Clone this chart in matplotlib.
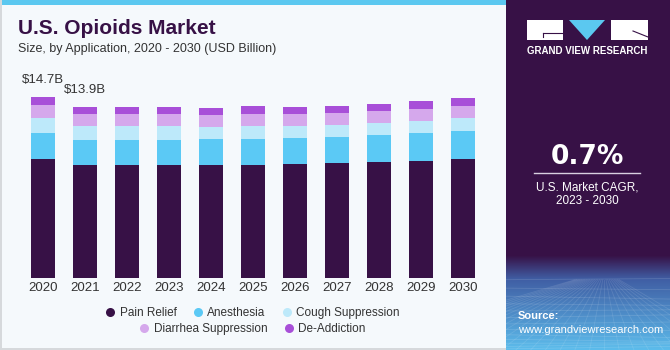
import numpy as np
import matplotlib
matplotlib.use("Agg")
import matplotlib.pyplot as plt
from matplotlib.patches import Rectangle, Polygon
from matplotlib.lines import Line2D

plt.rcParams['font.family'] = ['Liberation Sans', 'DejaVu Sans']

years = ['2020', '2021', '2022', '2023', '2024', '2025', '2026', '2027', '2028', '2029', '2030']
segments = ['Pain Relief', 'Anesthesia', 'Cough Suppression', 'Diarrhea Suppression', 'De-Addiction']

pain_relief = [9.73, 9.19, 9.19, 9.19, 9.19, 9.19, 9.30, 9.38, 9.46, 9.55, 9.71]
anesthesia = [2.12, 2.06, 2.03, 2.06, 2.14, 2.14, 2.09, 2.12, 2.20, 2.28, 2.28]
cough = [1.22, 1.17, 1.19, 1.17, 1.00, 1.06, 1.03, 1.00, 1.00, 0.98, 1.03]
diarrhea = [1.03, 0.95, 0.95, 0.95, 0.95, 0.98, 0.95, 0.95, 0.95, 0.98, 1.03]
de_addiction = [0.62, 0.57, 0.57, 0.57, 0.57, 0.62, 0.57, 0.57, 0.60, 0.62, 0.60]

bar_labels = {0: '$14.7B', 1: '$13.9B'}

colors = ['#371146', '#5bc9f5', '#bde9fa', '#d5a8ec', '#a84fd8']
dark = '#371146'
bg = '#f5f9fc'

fig = plt.figure(figsize=(6.7, 3.5), dpi=100)
fig.patch.set_facecolor(bg)

# top strip, borders and right panel (behind everything)
fig.patches.append(Rectangle((0, 1 - 5 / 350), 506 / 670, 5 / 350, transform=fig.transFigure,
                             facecolor='#5bc8f0', edgecolor='none', zorder=-1))
fig.patches.append(Rectangle((0, 0), 2 / 670, 1, transform=fig.transFigure,
                             facecolor='#d6d9dc', edgecolor='none', zorder=-1))
fig.patches.append(Rectangle((0, 0), 506 / 670, 2 / 350, transform=fig.transFigure,
                             facecolor='#d6d9dc', edgecolor='none', zorder=-1))
fig.patches.append(Rectangle((506 / 670, 0), 164 / 670, 1, transform=fig.transFigure,
                             facecolor=dark, edgecolor='none', zorder=-1))

# gradient at the bottom of the right panel
gax = fig.add_axes([506 / 670, 0, 164 / 670, 95 / 350])
gax.axis('off')
top_c = np.array([0x37, 0x11, 0x46]) / 255
mid_c = np.array([0x40, 0x5e, 0xa4]) / 255
bot_c = np.array([0x5c, 0xbc, 0xec]) / 255
t = np.linspace(0, 1, 100)[:, None]
grad = np.where(t < 0.25, top_c + (mid_c - top_c) * (t / 0.25),
                mid_c + (bot_c - mid_c) * ((t - 0.25) / 0.75))
gax.imshow(grad[:, None, :].repeat(2, axis=1), aspect='auto', extent=[0, 1, 0, 1], origin='upper')
for k in range(14):
    yy = 0.74 * (k / 13) ** 1.6
    gax.plot([0, 1], [yy, yy + 0.03 * np.sin(k)], color='white', alpha=0.13, lw=0.6)
for k in range(-8, 20):
    gax.plot([0.5 + k * 0.01, k * 0.09 - 0.3], [0.74, 0], color='white', alpha=0.11, lw=0.6)
gax.set_xlim(0, 1)
gax.set_ylim(0, 1)

# main chart
ax = fig.add_axes([17.6 / 670, 71.7 / 350, 470.3 / 670, 196.6 / 350])
ax.set_facecolor(bg)
x = np.arange(len(years))
series = [pain_relief, anesthesia, cough, diarrhea, de_addiction]
bottom = np.zeros(len(years))
for vals, c in zip(series, colors):
    ax.bar(x, vals, 0.58, bottom=bottom, color=c, edgecolor='none', zorder=2)
    bottom += np.array(vals)

for i, lab in bar_labels.items():
    ax.annotate(lab, (x[i], bottom[i]), xytext=(0, 8), textcoords='offset points',
                ha='center', va='bottom', fontsize=9.5, color='#333333')

ax.set_xlim(-0.6, 10.6)
ax.set_ylim(0, 16)
ax.set_xticks(x)
ax.set_xticklabels(years, fontsize=9.5, color='#333333')
ax.tick_params(axis='x', length=0, pad=3)
ax.set_yticks([])
for s in ax.spines.values():
    s.set_visible(False)

# legend, two centered rows
def handles(idx):
    return [Line2D([], [], marker='o', linestyle='none', markersize=6.5,
                   markerfacecolor=colors[j], markeredgecolor='none') for j in idx]

kw = dict(frameon=False, fontsize=8.5, handletextpad=0.3, columnspacing=1.3,
          handlelength=1.0, loc='center', labelcolor='#333333')
leg1 = fig.legend(handles([0, 1, 2]), segments[0:3], ncol=3,
                  bbox_to_anchor=(252 / 670, 1 - 313 / 350), **kw)
leg2 = fig.legend(handles([3, 4]), segments[3:5], ncol=2,
                  bbox_to_anchor=(252 / 670, 1 - 329 / 350), **kw)

# titles
fig.text(18 / 670, 1 - 29 / 350, 'U.S. Opioids Market', fontsize=15, fontweight='bold',
         color=dark, va='center', ha='left')
fig.text(18 / 670, 1 - 49 / 350, 'Size, by Application, 2020 - 2030 (USD Billion)',
         fontsize=9, color='#333333', va='center', ha='left')

# logo
def fr(x0, y0, w, h, c):
    fig.patches.append(Rectangle((x0 / 670, 1 - (y0 + h) / 350), w / 670, h / 350,
                                 transform=fig.transFigure, facecolor=c, edgecolor='none'))

fr(527, 20, 36, 20, 'white')
fr(611, 20, 37, 20, 'white')
fig.patches.append(Polygon([(569 / 670, 1 - 20 / 350), (605 / 670, 1 - 20 / 350),
                            (587 / 670, 1 - 40 / 350)], closed=True,
                           transform=fig.transFigure, facecolor='#5bc8f0', edgecolor='none'))
fig.lines.append(Line2D([543 / 670, 563 / 670], [1 - 33 / 350, 1 - 33 / 350],
                        transform=fig.transFigure, color=dark, lw=0.8))
fig.lines.append(Line2D([543 / 670, 543 / 670], [1 - 33 / 350, 1 - 37 / 350],
                        transform=fig.transFigure, color=dark, lw=0.8))
fig.lines.append(Line2D([633 / 670, 648 / 670], [1 - 31 / 350, 1 - 37 / 350],
                        transform=fig.transFigure, color=dark, lw=0.8))
fig.text(587 / 670, 1 - 51 / 350, 'GRAND VIEW RESEARCH', fontsize=7, fontweight='bold',
         color='white', ha='center', va='center')

# CAGR
fig.text(587 / 670, 1 - 157 / 350, '0.7%', fontsize=19, fontweight='bold', color='white',
         ha='center', va='center', family='DejaVu Sans')
fig.lines.append(Line2D([534 / 670, 640 / 670], [1 - 173 / 350, 1 - 173 / 350],
                        transform=fig.transFigure, color='#d8d0e0', lw=1))
fig.text(587 / 670, 1 - 187 / 350, 'U.S. Market CAGR,', fontsize=8.5, color='white',
         ha='center', va='center')
fig.text(587 / 670, 1 - 201 / 350, '2023 - 2030', fontsize=8.5, color='white',
         ha='center', va='center')

fig.text(518 / 670, 1 - 316 / 350, 'Source:', fontsize=8, fontweight='bold', color='white',
         ha='left', va='center')
fig.text(518 / 670, 1 - 330 / 350, 'www.grandviewresearch.com', fontsize=8, color='white',
         ha='left', va='center')

fig.savefig('out.png', dpi=100, facecolor=fig.get_facecolor())
